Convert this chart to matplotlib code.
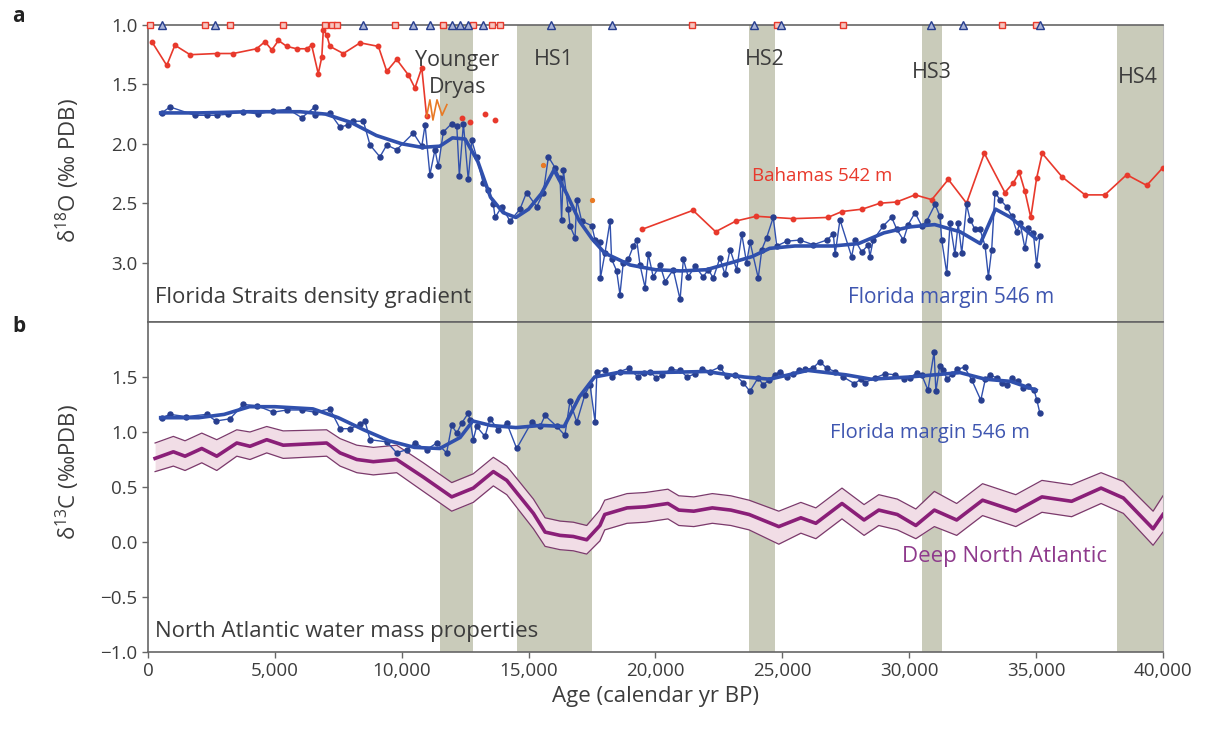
import matplotlib
matplotlib.use("Agg")
import matplotlib.pyplot as plt

plt.rcParams['font.family'] = ['Open Sans', 'DejaVu Sans']
plt.rcParams['mathtext.fontset'] = 'custom'
plt.rcParams['mathtext.rm'] = 'Open Sans'

# ---- stadial bands (calendar yr BP) ----
band_start = [11500, 14550, 23700, 30500, 38200]
band_end = [12800, 17500, 24700, 31300, 40000]
band_names = ['Younger\nDryas', 'HS1', 'HS2', 'HS3', 'HS4']
band_label_x = [12200, 16000, 24300, 30900, 39000]
band_label_y = [1.41, 1.29, 1.29, 1.40, 1.44]

# ---- radiocarbon age control points ----
ctrl_blue = [540, 2640, 8490, 10460, 11110, 11970, 12300, 12620, 13210, 15880,
             18290, 23870, 24950, 30870, 32100, 35150]
ctrl_red = [80, 2250, 3230, 5330, 6980, 7240, 7440, 9730, 11640, 12820, 13540,
            13870, 21430, 24800, 27400, 33660, 35000]

# ---- Bahamas 542 m, d18O ----
bah_sh_age = [150, 740, 1060, 1660, 2710, 3360, 4280, 4610, 4880, 5140, 5470, 5860,
              6250, 6450, 6710, 6850, 6910, 7040, 7170, 7700, 8360, 9080, 9410, 9800,
              10260, 10520, 10790, 10980]
bah_sh_val = [1.14, 1.34, 1.17, 1.25, 1.24, 1.24, 1.20, 1.14, 1.21, 1.13, 1.18, 1.20,
              1.20, 1.17, 1.41, 1.27, 1.04, 1.08, 1.18, 1.24, 1.15, 1.18, 1.39, 1.29,
              1.42, 1.53, 1.36, 1.77]
bah_yd_age = [10980, 11110, 11230, 11390, 11590, 11780]
bah_yd_val = [1.77, 1.63, 1.80, 1.63, 1.76, 1.67]
bah_pt_age = [12360, 12690, 13280, 13680]
bah_pt_val = [1.78, 1.82, 1.75, 1.80]
bah_or_age = [15570, 17500]
bah_or_val = [2.18, 2.47]
bah_age = [19470, 21480, 22370, 23170, 23970, 25420, 26790, 27350, 28150, 28850,
           29500, 30230, 30890, 31540, 32260, 32960, 33770, 34100, 34340, 34560,
           34790, 35020, 35240, 36030, 36930, 37710, 38570, 39360, 40000]
bah_val = [2.72, 2.56, 2.74, 2.65, 2.61, 2.63, 2.62, 2.57, 2.55, 2.50,
           2.49, 2.43, 2.47, 2.30, 2.50, 2.08, 2.41, 2.33, 2.24, 2.40,
           2.62, 2.29, 2.08, 2.28, 2.43, 2.43, 2.26, 2.35, 2.20]

# ---- Florida margin 546 m, d18O ----
fl18_age = [540, 870, 1850, 2310, 2710, 3170, 3760, 4350, 4940, 5530, 6060, 6580, 6600,
            7170, 7570, 7890, 8090, 8490, 8750, 9140, 9410, 9800, 10460, 10790, 10920,
            11110, 11310, 11440, 11640, 11970, 12170, 12270, 12430, 12620, 12760, 12950,
            13210, 13410, 13610, 13680, 13940, 14270, 14660, 14920, 15320, 15580, 15780,
            16040, 16240, 16300, 16370, 16560, 16630, 16830, 16900, 17090, 17490, 17620,
            17810, 17830, 18010, 18210, 18270, 18470, 18600, 18730, 18930, 19130, 19260,
            19390, 19590, 19720, 19910, 20180, 20380, 20700, 20970, 21100, 21290, 21560,
            21880, 22080, 22280, 22540, 22740, 22940, 23200, 23400, 23590, 23730, 24050,
            24190, 24380, 24640, 24780, 25170, 25690, 26220, 26750, 27010, 27080, 27270,
            27730, 27860, 28130, 28390, 28450, 28580, 28980, 29310, 29510, 29770, 29960,
            30230, 30490, 30690, 31020, 31210, 31280, 31480, 31610, 31800, 31930, 32070,
            32260, 32400, 32590, 32790, 32990, 33120, 33250, 33380, 33580, 33840, 34040,
            34240, 34370, 34560, 34690, 34890, 35020, 35150]
fl18_val = [1.74, 1.69, 1.76, 1.76, 1.76, 1.75, 1.73, 1.75, 1.72, 1.71, 1.78, 1.69, 1.76,
            1.74, 1.86, 1.84, 1.81, 1.81, 2.01, 2.11, 2.01, 2.05, 1.91, 2.02, 1.84,
            2.26, 2.05, 2.19, 1.90, 1.83, 1.85, 2.27, 1.83, 2.30, 1.97, 2.11,
            2.33, 2.39, 2.51, 2.62, 2.53, 2.65, 2.55, 2.41, 2.53, 2.41, 2.11,
            2.20, 2.29, 2.64, 2.22, 2.55, 2.69, 2.79, 2.47, 2.65, 2.69, 2.81,
            2.83, 3.13, 2.92, 2.65, 2.97, 3.07, 3.27, 3.00, 2.97, 2.86, 2.81,
            3.02, 3.21, 2.93, 3.12, 3.02, 3.16, 3.06, 3.31, 2.97, 3.12, 3.03,
            3.12, 3.06, 3.13, 2.96, 3.10, 2.89, 3.06, 2.76, 3.00, 2.83, 3.13,
            2.89, 2.79, 2.62, 2.86, 2.82, 2.81, 2.85, 2.81, 2.76, 2.93, 2.64,
            2.95, 2.81, 2.91, 2.85, 2.95, 2.81, 2.69, 2.62, 2.72, 2.81, 2.68,
            2.58, 2.69, 2.65, 2.51, 2.61, 2.81, 3.09, 2.67, 2.93, 2.67, 2.92,
            2.51, 2.64, 2.72, 2.72, 2.86, 3.12, 2.89, 2.41, 2.47, 2.53, 2.61,
            2.74, 2.67, 2.88, 2.71, 2.75, 3.02, 2.78]
fl18_sm_age = [500, 2000, 4000, 6000, 7000, 8000, 9000, 10000, 10800, 11500, 12000,
               12500, 13000, 13500, 14000, 14500, 15000, 15500, 16000, 16500, 17000,
               17500, 18000, 19000, 20000, 21000, 22000, 23000, 23800, 24500, 25500,
               27000, 28000, 29000, 30000, 31000, 32000, 32800, 33400, 34000, 35000]
fl18_sm_val = [1.74, 1.74, 1.73, 1.73, 1.75, 1.82, 1.93, 2.00, 2.03, 2.02, 1.95,
               1.96, 2.15, 2.45, 2.58, 2.62, 2.55, 2.42, 2.22, 2.42, 2.65,
               2.80, 2.92, 3.02, 3.06, 3.07, 3.06, 3.00, 2.95, 2.88, 2.86,
               2.86, 2.84, 2.75, 2.70, 2.68, 2.74, 2.84, 2.55, 2.62, 2.80]

# ---- Florida margin 546 m, d13C ----
fl13_age = [540, 870, 1500, 2310, 2680, 3230, 3760, 4280, 4940, 5470, 6060, 6580, 7170,
            7570, 7960, 8360, 8550, 8750, 9410, 9800, 10200, 10520, 10980, 11380, 11770,
            11970, 12170, 12360, 12620, 12690, 12820, 12950, 13280, 13480, 13800, 14140,
            14530, 15120, 15450, 15650, 16110, 16430, 16630, 16900, 17220, 17420, 17620,
            17690, 18010, 18300, 18600, 18950, 19310, 19550, 19780, 20030, 20270, 20600,
            20970, 21250, 21560, 21850, 22150, 22530, 22800, 23130, 23450, 23720, 24040,
            24250, 24460, 24700, 24910, 25180, 25420, 25650, 25890, 26200, 26470, 26750,
            27070, 27400, 27840, 28100, 28260, 28640, 29050, 29440, 29800, 30030, 30300,
            30490, 30740, 30980, 31050, 31200, 31330, 31500, 31690, 31900, 32180, 32470,
            32820, 33000, 33180, 33460, 33650, 33850, 34050, 34270, 34500, 34680, 34920,
            35030, 35150]
fl13_val = [1.13, 1.16, 1.14, 1.16, 1.10, 1.12, 1.25, 1.24, 1.18, 1.20, 1.20, 1.18, 1.21,
            1.03, 1.03, 1.07, 1.10, 0.93, 0.91, 0.81, 0.84, 0.90, 0.84, 0.90, 0.81,
            1.06, 0.99, 1.08, 1.17, 1.11, 0.93, 1.05, 0.96, 1.12, 1.02, 1.08,
            0.85, 1.09, 1.05, 1.15, 1.05, 0.97, 1.28, 1.09, 1.34, 1.43, 1.09,
            1.55, 1.56, 1.50, 1.55, 1.58, 1.50, 1.54, 1.55, 1.49, 1.52, 1.57,
            1.56, 1.50, 1.53, 1.57, 1.55, 1.59, 1.51, 1.52, 1.45, 1.37, 1.49,
            1.43, 1.47, 1.52, 1.55, 1.50, 1.53, 1.56, 1.57, 1.58, 1.64, 1.58,
            1.55, 1.50, 1.44, 1.48, 1.45, 1.49, 1.53, 1.52, 1.48, 1.49, 1.54,
            1.52, 1.38, 1.73, 1.37, 1.60, 1.56, 1.48, 1.53, 1.57, 1.59, 1.47,
            1.29, 1.48, 1.52, 1.49, 1.45, 1.43, 1.49, 1.46, 1.40, 1.42, 1.38,
            1.29, 1.17]
fl13_sm_age = [500, 2000, 3000, 4000, 5000, 6500, 7500, 8500, 9500, 10500, 11500, 12300,
               12800, 13500, 14500, 15500, 16400, 17000, 17600, 18500, 20000, 22000,
               23500, 24500, 26000, 27500, 28500, 30000, 31000, 32000, 33000, 34000, 35000]
fl13_sm_val = [1.13, 1.13, 1.16, 1.23, 1.23, 1.21, 1.13, 1.02, 0.92, 0.86, 0.85, 0.95,
               1.10, 1.06, 1.04, 1.06, 1.05, 1.32, 1.50, 1.54, 1.54, 1.55,
               1.50, 1.48, 1.56, 1.52, 1.48, 1.50, 1.52, 1.54, 1.48, 1.46, 1.38]

# ---- Deep North Atlantic d13C stack with envelope ----
dna_age = [280, 1000, 1460, 2120, 2710, 3500, 4020, 4680, 5330, 7040, 7570, 8230, 8880,
           9800, 10850, 11970, 12820, 13610, 14140, 15190, 15650, 16240, 16760, 17290,
           17810, 18000, 18880, 19610, 20490, 20920, 21510, 22240, 22970, 23690, 24860,
           25730, 26320, 27350, 28220, 28800, 29530, 30260, 30990, 31870, 32890, 34200,
           35230, 36400, 37560, 38440, 39610, 40000]
dna_mid = [0.76, 0.82, 0.78, 0.85, 0.78, 0.90, 0.87, 0.93, 0.88, 0.90, 0.81, 0.75, 0.73,
           0.75, 0.59, 0.41, 0.49, 0.64, 0.56, 0.26, 0.09, 0.06, 0.05, 0.02,
           0.15, 0.25, 0.31, 0.32, 0.35, 0.29, 0.28, 0.31, 0.29, 0.25, 0.14,
           0.22, 0.17, 0.35, 0.20, 0.29, 0.25, 0.15, 0.29, 0.20, 0.38, 0.28,
           0.41, 0.37, 0.49, 0.40, 0.12, 0.25]
dna_hi = [0.90, 0.96, 0.92, 0.99, 0.93, 1.02, 1.00, 1.05, 1.01, 1.02, 0.94, 0.88, 0.86,
          0.88, 0.72, 0.54, 0.62, 0.77, 0.69, 0.39, 0.22, 0.19, 0.18, 0.15,
          0.29, 0.38, 0.44, 0.45, 0.48, 0.42, 0.41, 0.44, 0.42, 0.38, 0.28,
          0.36, 0.31, 0.49, 0.34, 0.43, 0.39, 0.30, 0.46, 0.35, 0.53, 0.43,
          0.56, 0.52, 0.63, 0.55, 0.28, 0.42]
dna_lo = [0.64, 0.69, 0.65, 0.72, 0.65, 0.78, 0.75, 0.81, 0.76, 0.78, 0.69, 0.63, 0.61,
          0.63, 0.46, 0.28, 0.36, 0.51, 0.43, 0.12, -0.04, -0.07, -0.08, -0.11,
          0.01, 0.11, 0.17, 0.18, 0.21, 0.15, 0.14, 0.17, 0.15, 0.11, -0.02,
          0.08, 0.03, 0.21, 0.06, 0.15, 0.11, 0.03, 0.14, 0.06, 0.24, 0.14,
          0.27, 0.23, 0.35, 0.26, -0.03, 0.09]

x_ticks = [0, 5000, 10000, 15000, 20000, 25000, 30000, 35000, 40000]
x_ticklabels = ['0', '5,000', '10,000', '15,000', '20,000', '25,000', '30,000',
                '35,000', '40,000']

# ---- colours ----
BAND = '#c9cbba'
BLUE = '#3050ad'
DOT = '#283f8f'
RED = '#e8392c'
ORANGE = '#e87a25'
PURPLE = '#8a1f78'
ENV = '#7b3a6c'
TXT = '#3c3c3c'
AXC = '#666666'

fig = plt.figure(figsize=(12.22, 7.31), dpi=100)
ax_a = fig.add_axes([0.1211, 0.5595, 0.8306, 0.4063])
ax_b = fig.add_axes([0.1211, 0.1081, 0.8306, 0.4514], sharex=ax_a)

for ax in (ax_a, ax_b):
    for s, e in zip(band_start, band_end):
        ax.axvspan(s, e, color=BAND, lw=0, zorder=0)
    for sp in ax.spines.values():
        sp.set_color(AXC)
        sp.set_linewidth(1.2)
    ax.spines['right'].set_color('#bbbbbb')
    ax.spines['right'].set_linewidth(0.8)
    ax.tick_params(direction='out', length=4, width=1, color=AXC,
                   labelsize=13.5, labelcolor=TXT)

# ---- panel a ----
ax_a.plot(bah_sh_age, bah_sh_val, color=RED, lw=1.2, marker='o', ms=3.2, zorder=3)
ax_a.plot(bah_yd_age, bah_yd_val, color=ORANGE, lw=1.2, zorder=3)
ax_a.plot(bah_pt_age, bah_pt_val, 'o', color=RED, ms=3.2, zorder=3)
ax_a.plot(bah_or_age, bah_or_val, 'o', color=ORANGE, ms=2.8, zorder=3)
ax_a.plot(bah_age, bah_val, color=RED, lw=1.2, marker='o', ms=3.2, zorder=3)

ax_a.plot(fl18_age, fl18_val, color=BLUE, lw=1.0, marker='o', ms=3.6,
          mfc=DOT, mec=DOT, zorder=4)
ax_a.plot(fl18_sm_age, fl18_sm_val, color=BLUE, lw=2.6, zorder=5)

ax_a.plot(ctrl_red, [1.0] * len(ctrl_red), 's', ms=5, mfc='#f6c6c0', mec=RED,
          mew=1, clip_on=False, zorder=6)
ax_a.plot(ctrl_blue, [1.0] * len(ctrl_blue), '^', ms=6, mfc='#aab4d8', mec=DOT,
          mew=1, clip_on=False, zorder=7)

ax_a.set_ylim(3.5, 1.0)
ax_a.set_yticks([1.0, 1.5, 2.0, 2.5, 3.0])
ax_a.set_yticklabels(['1.0', '1.5', '2.0', '2.5', '3.0'])
ax_a.tick_params(axis='x', bottom=False, labelbottom=False)

for name, x, y in zip(band_names, band_label_x, band_label_y):
    ax_a.text(x, y, name, ha='center', va='center', fontsize=15.5, color=TXT,
              linespacing=1.4, zorder=8)

ax_a.text(280, 3.29, 'Florida Straits density gradient', fontsize=16, color=TXT,
          va='center')
ax_a.text(27590, 3.29, 'Florida margin 546 m', fontsize=15, color='#3f56b0',
          va='center')
ax_a.text(23800, 2.27, 'Bahamas 542 m', fontsize=13.5, color=RED, va='center')

# ---- panel b ----
ax_b.fill_between(dna_age, dna_lo, dna_hi, color='#f1dde6', lw=0, zorder=1)
ax_b.plot(dna_age, dna_hi, color=ENV, lw=0.9, zorder=2)
ax_b.plot(dna_age, dna_lo, color=ENV, lw=0.9, zorder=2)
ax_b.plot(dna_age, dna_mid, color=PURPLE, lw=2.6, zorder=3)

ax_b.plot(fl13_age, fl13_val, color=BLUE, lw=1.0, marker='o', ms=3.6,
          mfc=DOT, mec=DOT, zorder=4)
ax_b.plot(fl13_sm_age, fl13_sm_val, color=BLUE, lw=2.6, zorder=5)

ax_b.set_ylim(-1.0, 2.0)
ax_b.set_yticks([-1.0, -0.5, 0.0, 0.5, 1.0, 1.5])
ax_b.set_yticklabels(['\u22121.0', '\u22120.5', '0.0', '0.5', '1.0', '1.5'])
ax_b.set_xlim(0, 40000)
ax_b.set_xticks(x_ticks)
ax_b.set_xticklabels(x_ticklabels)

ax_b.text(280, -0.81, 'North Atlantic water mass properties', fontsize=16,
          color=TXT, va='center')
ax_b.text(26880, 0.99, 'Florida margin 546 m', fontsize=14.5, color='#3f56b0',
          va='center')
ax_b.text(29700, -0.13, 'Deep North Atlantic', fontsize=16, color='#8e3a8c',
          va='center')

ax_b.set_xlabel('Age (calendar yr BP)', fontsize=16, color=TXT, labelpad=4)

fig.text(0.0556, 0.767, 'δ$^{18}$O (‰ PDB)', rotation=90, ha='center', va='center',
         fontsize=16, color=TXT)
fig.text(0.0556, 0.354, 'δ$^{13}$C (‰PDB)', rotation=90, ha='center', va='center',
         fontsize=16, color=TXT)
fig.text(0.010, 0.977, 'a', fontsize=15, fontweight='bold', color='#222222',
         ha='left', va='center')
fig.text(0.010, 0.553, 'b', fontsize=15, fontweight='bold', color='#222222',
         ha='left', va='center')

fig.savefig('out.png', dpi=100)
